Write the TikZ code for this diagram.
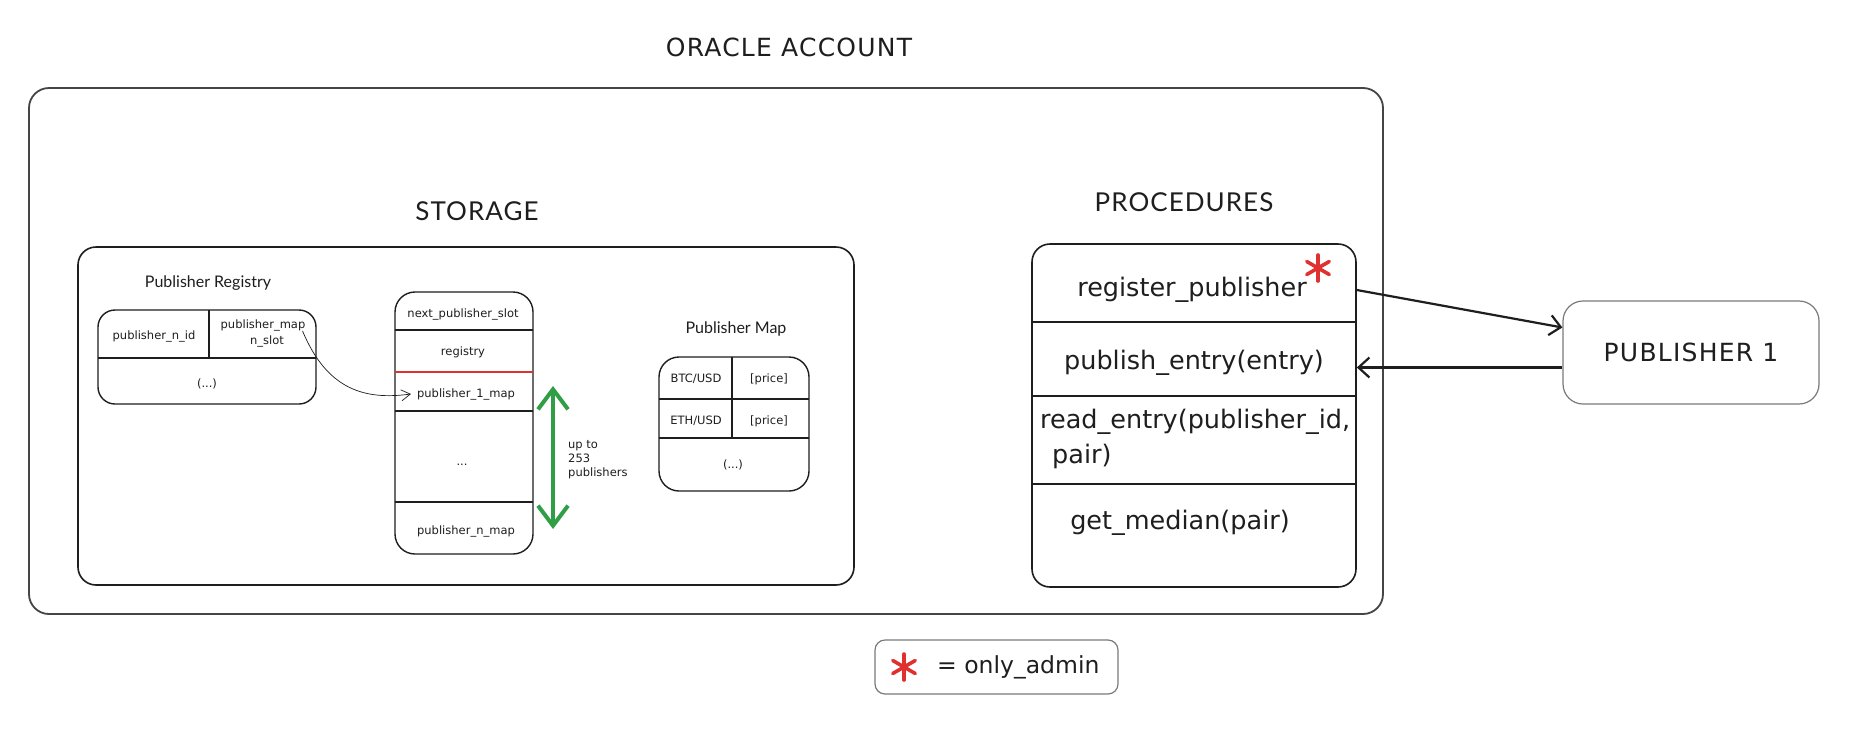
\documentclass[tikz,border=0pt]{standalone}
\usepackage{fontspec}
\usepackage{graphicx}
\setmainfont{Lato}
\newfontfamily\hand{DejaVu Sans}
\newfontfamily\handcaps[LetterSpace=5]{DejaVu Sans}
\newfontfamily\cleancaps[LetterSpace=4]{Lato}
\usetikzlibrary{arrows.meta,calc}
\definecolor{ink}{HTML}{1E1E1E}
\definecolor{rd}{HTML}{E03131}
\definecolor{gr}{HTML}{2F9E44}
\definecolor{edge}{HTML}{454545}
\definecolor{soft}{HTML}{7A7A7A}
\begin{document}
\begin{tikzpicture}[x=1pt,y=-1pt,
  box/.style={draw=ink, line width=1.6pt, rounded corners=18pt},
  cell/.style={draw=ink, line width=1.4pt},
  tiny/.style={font=\hand\fontsize{11.5}{14}\selectfont, inner sep=0pt, text=ink},
  big/.style={font=\hand\fontsize{25.5}{30}\selectfont, inner sep=0pt, text=ink},
  label/.style={font=\fontsize{16}{19}\selectfont, inner sep=0pt, text=ink},
  heading/.style={font=\cleancaps\fontsize{26}{30}\selectfont, inner sep=0pt, text=ink},
  arr/.style={draw=ink, line width=2.2pt, -{Straight Barb[length=11pt,width=20pt]}},
  thinarr/.style={draw=ink, line width=0.7pt, -{Straight Barb[length=9pt,width=11pt]}},
  grarr/.style={draw=gr, line width=4pt, {Straight Barb[length=20pt,width=30pt]}-{Straight Barb[length=20pt,width=30pt]}},
  star/.pic={\foreach \a in {90,30,150}{\draw[rd, line width=3.6pt, line cap=round] (\a:13) -- (\a+180:13);}}
]
\useasboundingbox (0,0) rectangle (1854,737);
\fill[white] (0,0) rectangle (1854,737);

% title
\node[font=\handcaps\fontsize{25}{30}\selectfont, inner sep=0pt, text=ink] (oracle) at (789,47) {ORACLE ACCOUNT};

% outer box
\draw[box, draw=edge, line width=1.8pt, rounded corners=20pt] (29,88) rectangle (1383,614);

% storage
\node[heading] (storage) at (477,211) {STORAGE};
\draw[box] (78,247) rectangle (854,585);

% publisher registry
\node[label] (reglabel) at (208,283) {Publisher Registry};
\draw[box, line width=1.4pt, rounded corners=17pt] (98,310) rectangle (316,404);
\draw[cell] (209,310) -- (209,358);
\draw[cell] (98,358) -- (316,358);
\node[tiny] (pnid) at (154,336) {publisher\_n\_id};
\node[tiny] (pmap) at (263,325) {publisher\_map};
\node[tiny] (nslot) at (267,341) {n\_slot};
\node[tiny] (regdots) at (207,384) {(...)};

% slots column
\draw[box, line width=1.4pt, rounded corners=20pt] (395,292) rectangle (533,554);
\draw[cell] (395,330) -- (533,330);
\draw[draw=rd, line width=2.4pt] (395,372) -- (533,372);
\draw[cell] (395,411) -- (533,411);
\draw[cell] (395,502) -- (533,502);
\node[tiny] (nextslot) at (463,314) {next\_publisher\_slot};
\node[tiny] (registry) at (463,352) {registry};
\node[tiny] (p1map) at (466,394) {publisher\_1\_map};
\node[tiny] (sdots) at (462,465) {...};
\node[tiny] (pnmap) at (466,531) {publisher\_n\_map};

% curved pointer
\draw[thinarr] ([xshift=-3pt]pmap.south east) .. controls +(25,60) and +(-45,6) .. ([xshift=-6pt]p1map.west);

% green range arrow
\coordinate (gtop) at (553,386);
\coordinate (gbot) at (553,529);
\draw[grarr] (gtop) -- (gbot);
\node[tiny, align=left, anchor=west] (upto) at (568,460) {up to\\253\\publishers};

% publisher map
\node[label] (maplabel) at (736,329) {Publisher Map};
\draw[box, line width=1.4pt, rounded corners=20pt] (659,357) rectangle (809,491);
\draw[cell] (732,357) -- (732,438);
\draw[cell] (659,399) -- (809,399);
\draw[cell] (659,438) -- (809,438);
\node[tiny] (btc) at (696,379) {BTC/USD};
\node[tiny] (pr1) at (769,379) {[price]};
\node[tiny] (eth) at (696,421) {ETH/USD};
\node[tiny] (pr2) at (769,421) {[price]};
\node[tiny] (mdots) at (733,465) {(...)};

% procedures
\node[heading] (proclabel) at (1184,202) {PROCEDURES};
\node[box, minimum width=324pt, minimum height=343pt, inner sep=0pt] (proc) at (1194,415.5) {};
\draw[cell] (1032,322) -- (1356,322);
\draw[cell] (1032,396) -- (1356,396);
\draw[cell] (1032,484) -- (1356,484);
\node[big] (regpub) at (1192,290) {register\_publisher};
\node[big] (pubent) at (1194,363) {publish\_entry(entry)};
\node[big, anchor=west] (readent) at (1040,422) {read\_entry(publisher\_id,};
\node[big, anchor=west] (pair) at (1052,456) {pair)};
\node[big] (median) at (1180,523) {get\_median(pair)};
\pic at (1318,268) {star};

% publisher
\node[draw=soft, line width=1.2pt, rounded corners=20pt, minimum width=256pt, minimum height=103pt,
      font=\handcaps\fontsize{25}{30}\selectfont, text=ink] (pub) at (1691,352.5) {PUBLISHER 1};

\draw[arr] (proc.east |- regpub) -- ([yshift=25pt]pub.west);
\draw[arr] ([yshift=-15pt]pub.west) coordinate (s2) -- (proc.east |- s2);

% legend
\node[draw=soft, line width=1.2pt, rounded corners=10pt, minimum width=243pt, minimum height=54pt] (legend) at (996.5,667) {};
\pic at (904,667) {star};
\node[font=\hand\fontsize{23.5}{28}\selectfont, inner sep=0pt, text=ink, anchor=west] (legtext) at (937,667) {= only\_admin};
\end{tikzpicture}
\end{document}
